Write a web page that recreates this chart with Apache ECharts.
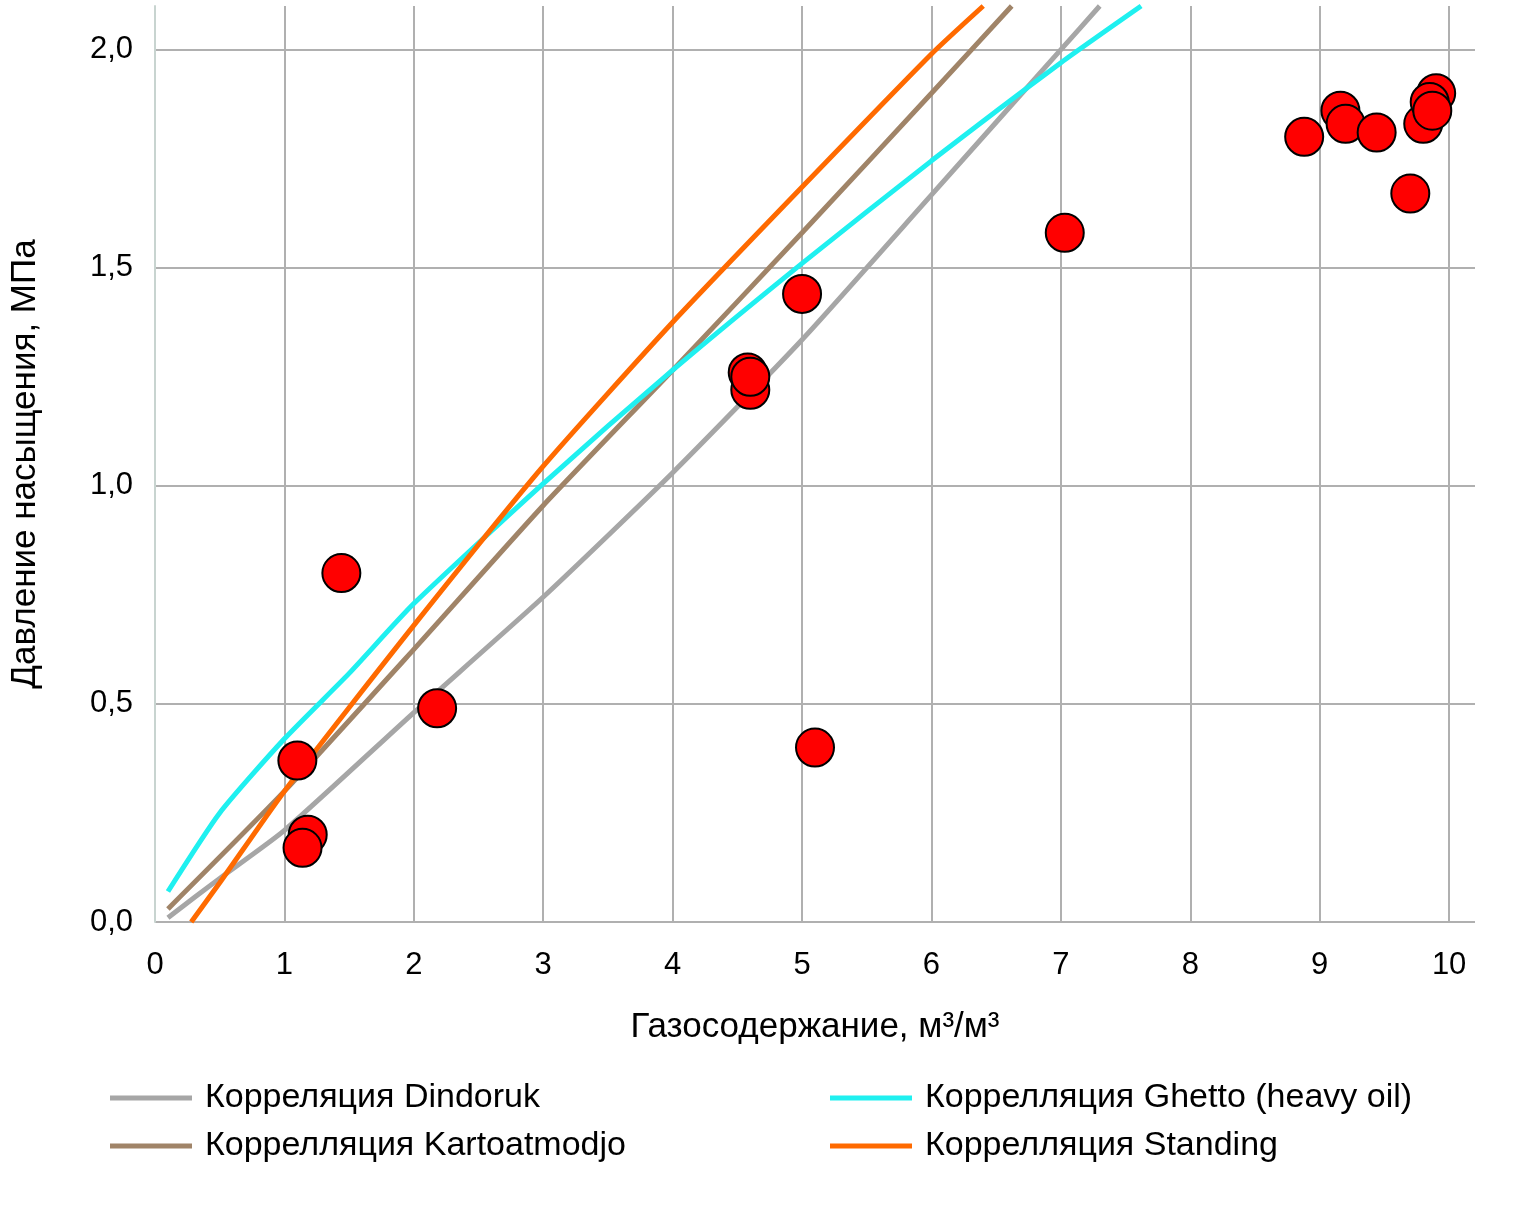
<!DOCTYPE html>
<html>
<head>
<meta charset="utf-8">
<script src="https://cdn.jsdelivr.net/npm/echarts@6/dist/echarts.min.js"></script>
<style>html,body{margin:0;background:#fff}#main{width:1517px;height:1217px}</style>
</head>
<body>
<div id="main"></div>
<script>
// кривые корреляций [Rs, Pb]
var dindoruk = [[0.1,0.01],[0.5,0.1],[1,0.21],[2,0.48],[3,0.745],[4,1.03],[5,1.335],[6,1.667],[7,2.0],[7.3,2.1]];
var kartoatmodjo = [[0.1,0.03],[1,0.3],[2,0.625],[3,0.955],[4,1.265],[5,1.58],[6,1.9],[6.62,2.1]];
var ghetto = [[0.1,0.07],[0.5,0.25],[1,0.42],[1.5,0.57],[2,0.73],[3,1.005],[4,1.265],[5,1.51],[6,1.745],[7,1.97],[7.62,2.1]];
var standing = [[0.28,0.0],[0.5,0.09],[1,0.3],[2,0.68],[3,1.045],[4,1.375],[5,1.685],[6,1.99],[6.4,2.1]];
// экспериментальные точки
var measured = [[1.1,0.37],[1.18,0.2],[1.14,0.17],[1.44,0.8],[2.18,0.49],[4.58,1.26],[4.6,1.22],[4.6,1.25],
  [5.0,1.44],[5.1,0.4],[7.03,1.58],[8.88,1.8],[9.16,1.86],[9.2,1.83],[9.44,1.81],[9.7,1.67],
  [9.8,1.83],[9.9,1.9],[9.85,1.88],[9.87,1.86]];

var font = 'Liberation Sans, Arial, sans-serif';
function line(name, data, color) {
  return { name: name, type: 'line', data: data, showSymbol: false, smooth: 0.2,
    lineStyle: { color: color, width: 5 }, itemStyle: { color: color } };
}
var myChart = echarts.init(document.getElementById('main'));
myChart.setOption({
  animation: false,
  textStyle: { fontFamily: font },
  grid: { left: 149, right: 42, top: 6, bottom: 295 },
  xAxis: {
    type: 'value', min: 0, max: 10.2, interval: 1,
    name: 'Газосодержание, м³/м³', nameLocation: 'middle', nameGap: 88,
    nameTextStyle: { fontSize: 35, color: '#000' },
    axisLabel: { fontSize: 31, color: '#000', margin: 28, formatter: function (v) { return v > 10 ? '' : v; } },
    axisLine: { show: false }, axisTick: { show: false },
    splitLine: { showMaxLine: false, lineStyle: { color: '#b0b0b0', width: 2 } }
  },
  yAxis: {
    type: 'value', min: 0, max: 2.1, interval: 0.5,
    name: 'Давление насыщения, МПа', nameLocation: 'middle', nameGap: 112,
    nameTextStyle: { fontSize: 35, color: '#000' },
    axisLabel: { fontSize: 31, color: '#000', margin: 22,
      formatter: function (v) { return v > 2 ? '' : v.toFixed(1).replace('.', ','); } },
    axisLine: { show: true, lineStyle: { color: '#c8d4d0', width: 2 } }, axisTick: { show: false },
    splitLine: { showMaxLine: false, lineStyle: { color: '#b0b0b0', width: 2 } }
  },
  legend: [
    { left: 105, top: 1076, orient: 'vertical', itemWidth: 82, itemHeight: 5, itemGap: 14,
      icon: 'rect', textStyle: { fontSize: 34, color: '#000', padding: [0, 0, 0, 8] },
      data: ['Корреляция Dindoruk', 'Коррелляция Kartoatmodjo'] },
    { left: 825, top: 1076, orient: 'vertical', itemWidth: 82, itemHeight: 5, itemGap: 14,
      icon: 'rect', textStyle: { fontSize: 34, color: '#000', padding: [0, 0, 0, 8] },
      data: ['Коррелляция Ghetto (heavy oil)', 'Коррелляция Standing'] }
  ],
  series: [
    line('Корреляция Dindoruk', dindoruk, '#a6a6a6'),
    line('Коррелляция Kartoatmodjo', kartoatmodjo, '#a08468'),
    line('Коррелляция Ghetto (heavy oil)', ghetto, '#1ff0f0'),
    line('Коррелляция Standing', standing, '#ff6a00'),
    { name: 'Данные', type: 'scatter', data: measured, symbolSize: 38, z: 10,
      itemStyle: { color: '#ff0000', opacity: 1, borderColor: '#000', borderWidth: 2 } }
  ]
});
</script>
</body>
</html>
